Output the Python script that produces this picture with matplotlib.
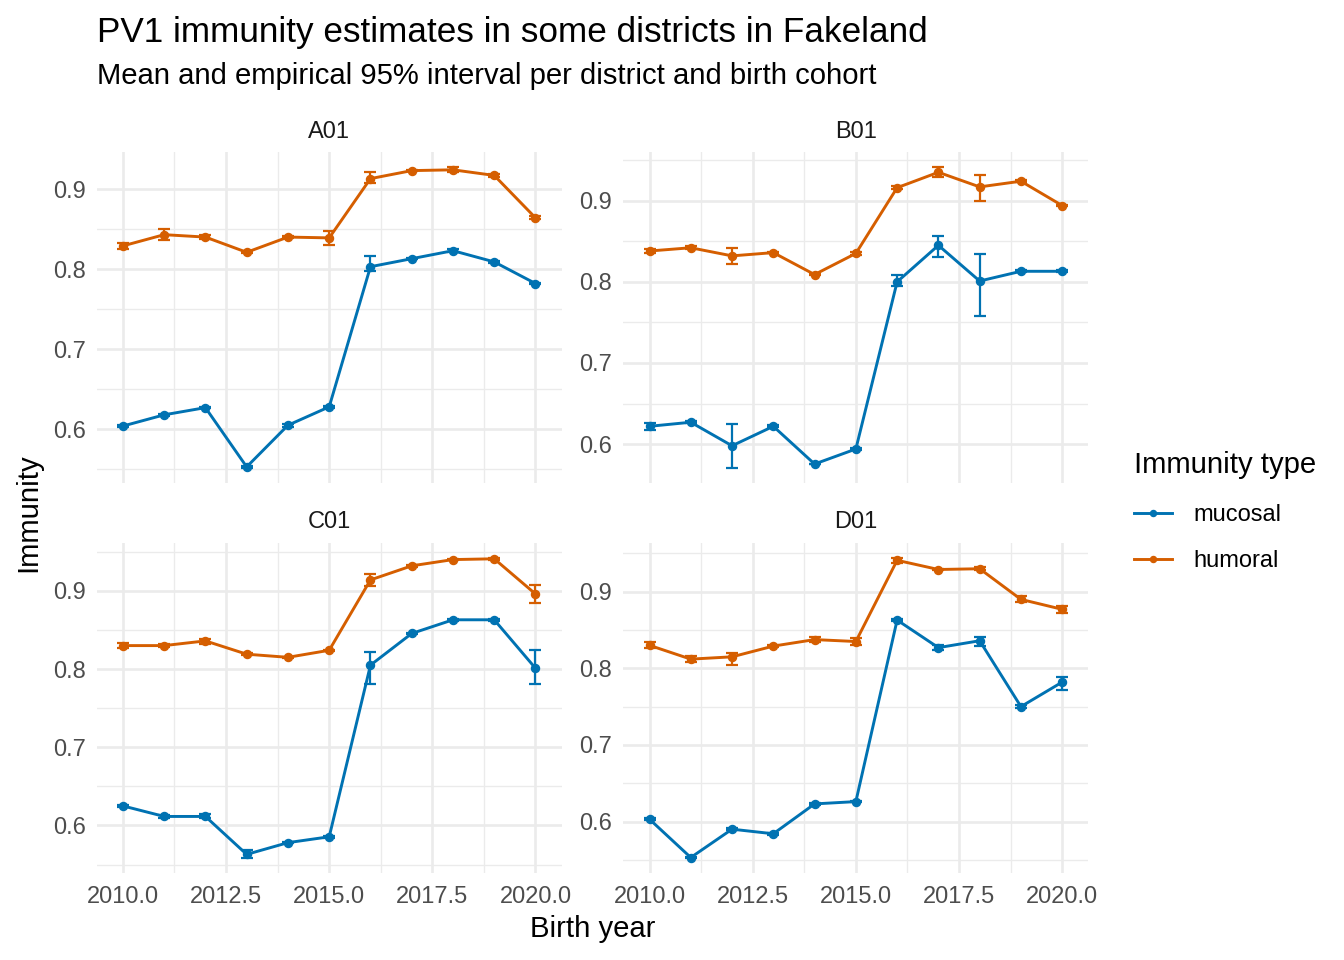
import matplotlib
matplotlib.use("Agg")
import matplotlib.pyplot as plt
from matplotlib.ticker import FixedLocator, FuncFormatter
import numpy as np

plt.rcParams['font.family'] = ['Liberation Sans', 'DejaVu Sans']

# ---------------- data ----------------
years = [2010, 2011, 2012, 2013, 2014, 2015, 2016, 2017, 2018, 2019, 2020]
districts = ["A01", "B01", "C01", "D01"]
types = ["mucosal", "humoral"]

A01_mucosal_mean = [0.604, 0.618, 0.627, 0.553, 0.605, 0.628, 0.803, 0.813, 0.823, 0.809, 0.782]
A01_mucosal_lo   = [0.603, 0.617, 0.626, 0.552, 0.603, 0.627, 0.798, 0.812, 0.821, 0.808, 0.781]
A01_mucosal_hi   = [0.605, 0.619, 0.628, 0.554, 0.607, 0.629, 0.816, 0.814, 0.825, 0.810, 0.783]
A01_humoral_mean = [0.829, 0.843, 0.840, 0.821, 0.840, 0.839, 0.913, 0.923, 0.924, 0.917, 0.864]
A01_humoral_lo   = [0.825, 0.836, 0.838, 0.820, 0.839, 0.830, 0.907, 0.922, 0.921, 0.915, 0.862]
A01_humoral_hi   = [0.833, 0.850, 0.843, 0.822, 0.841, 0.847, 0.921, 0.924, 0.927, 0.919, 0.866]

B01_mucosal_mean = [0.622, 0.627, 0.598, 0.622, 0.5755, 0.594, 0.800, 0.845, 0.801, 0.813, 0.813]
B01_mucosal_lo   = [0.618, 0.626, 0.571, 0.621, 0.575, 0.593, 0.795, 0.830, 0.758, 0.812, 0.812]
B01_mucosal_hi   = [0.626, 0.628, 0.625, 0.623, 0.576, 0.595, 0.808, 0.857, 0.834, 0.814, 0.814]
B01_humoral_mean = [0.838, 0.842, 0.832, 0.836, 0.809, 0.835, 0.916, 0.935, 0.917, 0.924, 0.894]
B01_humoral_lo   = [0.836, 0.840, 0.822, 0.835, 0.808, 0.833, 0.914, 0.929, 0.899, 0.923, 0.893]
B01_humoral_hi   = [0.840, 0.844, 0.842, 0.837, 0.810, 0.837, 0.918, 0.941, 0.932, 0.925, 0.895]

C01_mucosal_mean = [0.625, 0.6115, 0.6115, 0.563, 0.578, 0.5855, 0.805, 0.8455, 0.863, 0.863, 0.801]
C01_mucosal_lo   = [0.624, 0.610, 0.609, 0.558, 0.577, 0.584, 0.781, 0.845, 0.862, 0.862, 0.781]
C01_mucosal_hi   = [0.626, 0.613, 0.614, 0.568, 0.579, 0.587, 0.822, 0.846, 0.864, 0.864, 0.825]
C01_humoral_mean = [0.830, 0.830, 0.836, 0.819, 0.815, 0.824, 0.914, 0.932, 0.940, 0.941, 0.896]
C01_humoral_lo   = [0.827, 0.828, 0.832, 0.818, 0.814, 0.823, 0.906, 0.931, 0.939, 0.940, 0.885]
C01_humoral_hi   = [0.833, 0.832, 0.839, 0.820, 0.816, 0.825, 0.922, 0.933, 0.941, 0.942, 0.908]

D01_mucosal_mean = [0.603, 0.553, 0.590, 0.584, 0.623, 0.626, 0.863, 0.827, 0.836, 0.750, 0.782]
D01_mucosal_lo   = [0.602, 0.552, 0.589, 0.583, 0.622, 0.625, 0.862, 0.824, 0.829, 0.748, 0.772]
D01_mucosal_hi   = [0.604, 0.554, 0.591, 0.585, 0.624, 0.627, 0.864, 0.830, 0.841, 0.752, 0.789]
D01_humoral_mean = [0.830, 0.812, 0.815, 0.829, 0.8375, 0.835, 0.941, 0.929, 0.930, 0.890, 0.877]
D01_humoral_lo   = [0.826, 0.808, 0.804, 0.828, 0.834, 0.831, 0.938, 0.928, 0.928, 0.886, 0.872]
D01_humoral_hi   = [0.834, 0.816, 0.820, 0.830, 0.841, 0.839, 0.944, 0.930, 0.932, 0.894, 0.881]

x_ticks = [2010.0, 2012.5, 2015.0, 2017.5, 2020.0]
y_ticks = [0.6, 0.7, 0.8, 0.9]

data = {
    "A01": {"mucosal": (A01_mucosal_mean, A01_mucosal_lo, A01_mucosal_hi),
            "humoral": (A01_humoral_mean, A01_humoral_lo, A01_humoral_hi)},
    "B01": {"mucosal": (B01_mucosal_mean, B01_mucosal_lo, B01_mucosal_hi),
            "humoral": (B01_humoral_mean, B01_humoral_lo, B01_humoral_hi)},
    "C01": {"mucosal": (C01_mucosal_mean, C01_mucosal_lo, C01_mucosal_hi),
            "humoral": (C01_humoral_mean, C01_humoral_lo, C01_humoral_hi)},
    "D01": {"mucosal": (D01_mucosal_mean, D01_mucosal_lo, D01_mucosal_hi),
            "humoral": (D01_humoral_mean, D01_humoral_lo, D01_humoral_hi)},
}

colors = {"mucosal": "#0072B2", "humoral": "#D55E00"}

# ---------------- layout ----------------
W, H = 1344, 960
fig = plt.figure(figsize=(W / 100, H / 100), dpi=100)
fig.patch.set_facecolor("white")

def px_rect(x0, y0, x1, y1):
    return [x0 / W, 1 - y1 / H, (x1 - x0) / W, (y1 - y0) / H]

panel_x = [(96.7, 561.7), (623.3, 1088.4)]
panel_y = [(152.4, 482.7), (543.0, 873.3)]

BASE = 21.1
SMALL = 17.0
GRID = "#EBEBEB"
axes = {}
handles = {}
for i, d in enumerate(districts):
    r, c = divmod(i, 2)
    ax = fig.add_axes(px_rect(panel_x[c][0], panel_y[r][0], panel_x[c][1], panel_y[r][1]))
    axes[d] = ax
    ax.set_facecolor("white")
    for s in ax.spines.values():
        s.set_visible(False)

    allv = []
    for t in types:
        m, lo, hi = data[d][t]
        allv += list(lo) + list(hi) + list(m)
        m = np.array(m); lo = np.array(lo); hi = np.array(hi)
        ax.errorbar(years, m, yerr=[m - lo, hi - m], fmt="none", ecolor=colors[t],
                    elinewidth=1.6, capsize=4.0, capthick=1.6, zorder=3)
        ln, = ax.plot(years, m, color=colors[t], lw=2.1, marker="o", ms=5.8,
                      mec=colors[t], mfc=colors[t], zorder=4, label=t)
        handles[t] = ln

    vmin, vmax = min(allv), max(allv)
    pad = (vmax - vmin) * 0.05
    ax.set_ylim(vmin - pad, vmax + pad)
    ax.set_xlim(2009.365, 2020.635)

    ax.xaxis.set_major_locator(FixedLocator(x_ticks))
    ax.xaxis.set_minor_locator(FixedLocator([2011.25, 2013.75, 2016.25, 2018.75]))
    ax.yaxis.set_major_locator(FixedLocator(y_ticks))
    ax.yaxis.set_minor_locator(FixedLocator([0.55, 0.65, 0.75, 0.85, 0.95]))
    ax.xaxis.set_major_formatter(FuncFormatter(lambda v, p: f"{v:.1f}"))
    ax.yaxis.set_major_formatter(FuncFormatter(lambda v, p: f"{v:.1f}"))
    ax.grid(which="major", color=GRID, lw=1.9, zorder=0)
    ax.grid(which="minor", color=GRID, lw=0.95, zorder=0)
    ax.set_axisbelow(True)
    ax.tick_params(which="both", length=0)
    ax.tick_params(axis="y", labelsize=SMALL, labelcolor="#4D4D4D", pad=8)
    ax.tick_params(axis="x", labelsize=SMALL, labelcolor="#4D4D4D", pad=9.5)
    if r == 0:
        ax.tick_params(axis="x", labelbottom=False)

    ax.annotate(d, xy=(0.5, 1.0), xycoords="axes fraction", xytext=(0, 10.5),
                textcoords="offset points", ha="center", va="baseline",
                fontsize=SMALL, color="#1A1A1A")

# ---------------- titles ----------------
fig.text(97 / W, 1 - 41.7 / H, "PV1 immunity estimates in some districts in Fakeland",
         fontsize=25.3, ha="left", va="baseline", color="black")
fig.text(97 / W, 1 - 84.3 / H, "Mean and empirical 95% interval per district and birth cohort",
         fontsize=BASE, ha="left", va="baseline", color="black")
fig.text(592.5 / W, 1 - 937 / H, "Birth year", fontsize=BASE, ha="center", va="baseline")
fig.text(28 / W, 1 - 512.5 / H, "Immunity", fontsize=BASE, ha="center", va="center",
         rotation=90)

# ---------------- legend ----------------
leg = fig.legend([handles["mucosal"], handles["humoral"]], ["mucosal", "humoral"],
                 title="Immunity type", loc="upper left",
                 bbox_to_anchor=(1113 / W, 1 - 430 / H), frameon=False,
                 fontsize=SMALL, title_fontsize=BASE, handlelength=1.6,
                 handletextpad=0.9, labelspacing=1.0, alignment="left",
                 markerscale=0.75)
leg._legend_box.sep = 18

fig.savefig("out.png", dpi=100, facecolor="white")
